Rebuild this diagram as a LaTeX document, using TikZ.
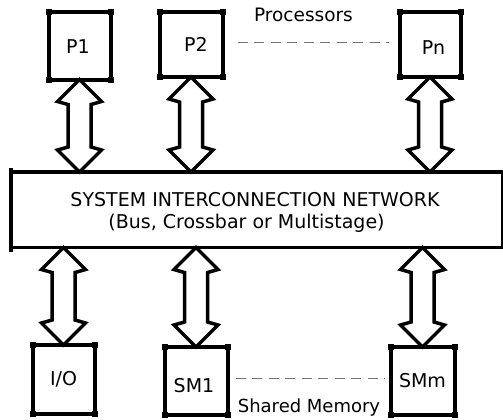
\documentclass[tikz,border=0pt]{standalone}
\usepackage{fontspec}
\setmainfont{DejaVu Sans}
\usetikzlibrary{calc}

\tikzset{
  unitbox/.style={draw, line width=4pt, outer sep=0pt, inner sep=0pt},
  netbox/.style={draw, line width=3.5pt, outer sep=0pt, inner sep=0pt},
  corner/.style={fill=black, minimum size=6pt, inner sep=0pt, outer sep=0pt},
  lbl/.style={anchor=base, inner sep=0pt, font=\fontsize{19}{21}\selectfont},
  dashlink/.style={draw=black!55, line width=1pt, dash pattern=on 10pt off 6.5pt},
  blockarrow/.style={draw, line width=3.5pt, line join=miter, fill=white}
}

% double-headed hollow block arrow between two points (top first)
\newcommand\twowayarrow[2]{%
  \path[blockarrow] let \p1=(#1), \p2=(#2) in
    (\x1,\y1) -- (\x1+22pt,\y1-22pt) -- (\x1+11.5pt,\y1-25pt)
    -- (\x1+11.5pt,\y2+25pt) -- (\x1+22pt,\y2+22pt) -- (\x1,\y2)
    -- (\x1-22pt,\y2+22pt) -- (\x1-11.5pt,\y2+25pt)
    -- (\x1-11.5pt,\y1-25pt) -- (\x1-22pt,\y1-22pt) -- cycle;}

\begin{document}
\begin{tikzpicture}[x=1pt, y=-1pt]
  \useasboundingbox (0,0) rectangle (503,420);
  \clip (0,0) rectangle (503,420);

  % processors
  \node[unitbox, minimum width=62pt, minimum height=67.5pt] (P1) at (79.5,45.75) {};
  \node[unitbox, minimum width=63pt, minimum height=65pt] (P2) at (191,44.5) {};
  \node[unitbox, minimum width=61pt, minimum height=65pt] (Pn) at (430,44.5) {};

  % I/O and shared memory modules
  \node[unitbox, minimum width=62pt, minimum height=69pt] (IO) at (63.5,379.5) {};
  \node[unitbox, minimum width=63pt, minimum height=68pt] (SM1) at (196,381) {};
  \node[unitbox, minimum width=64pt, minimum height=68pt] (SMm) at (422.5,381) {};

  % interconnection network
  \node[netbox, minimum width=492pt, minimum height=75.5pt] (net) at (257,209.75) {};
  \draw[line width=4pt] ([yshift=4pt]net.north west) -- ([yshift=-4pt]net.south west);

  % corner marks on the unit boxes
  \foreach \b in {P1,P2,Pn,IO,SM1,SMm}
    \foreach \a in {north west,north east,south west,south east}
      \node[corner] at (\b.\a) {};

  % links between processors / memories and the network
  \twowayarrow{P1.south}{P1.south |- net.north}
  \twowayarrow{P2.south}{P2.south |- net.north}
  \twowayarrow{Pn.south}{Pn.south |- net.north}
  \twowayarrow{IO.north |- net.south}{IO.north}
  \twowayarrow{SM1.north |- net.south}{SM1.north}
  \twowayarrow{SMm.north |- net.south}{SMm.north}

  % dashed ellipsis lines
  \draw[dashlink] ([shift={(15,-1.5)}]P2.east) -- ([shift={(-11,-1.5)}]Pn.west);
  \draw[dashlink] ([shift={(8,-3)}]SM1.east) -- ([shift={(-6,-3)}]SMm.west);

  % labels
  \node[lbl] (tP1) at (78,53) {P1};
  \node[lbl] (tP2) at (196,52) {P2};
  \node[lbl] (tPn) at (433.5,55) {Pn};
  \node[lbl, font=\fontsize{18.5}{21}\selectfont] (tProc) at (303.5,22) {Processors};
  \node[lbl] (tNet1) at (255,206.7) {SYSTEM INTERCONNECTION NETWORK};
  \node[lbl] (tNet2) at (246.5,228.5) {(Bus, Crossbar or Multistage)};
  \node[lbl] (tIO) at (63.5,385) {I/O};
  \node[lbl] (tSM1) at (194,392) {SM1};
  \node[lbl] (tSMm) at (422.5,387) {SMm};
  \node[lbl, font=\fontsize{18}{21}\selectfont] (tShared) at (309,412) {Shared Memory};
\end{tikzpicture}
\end{document}
